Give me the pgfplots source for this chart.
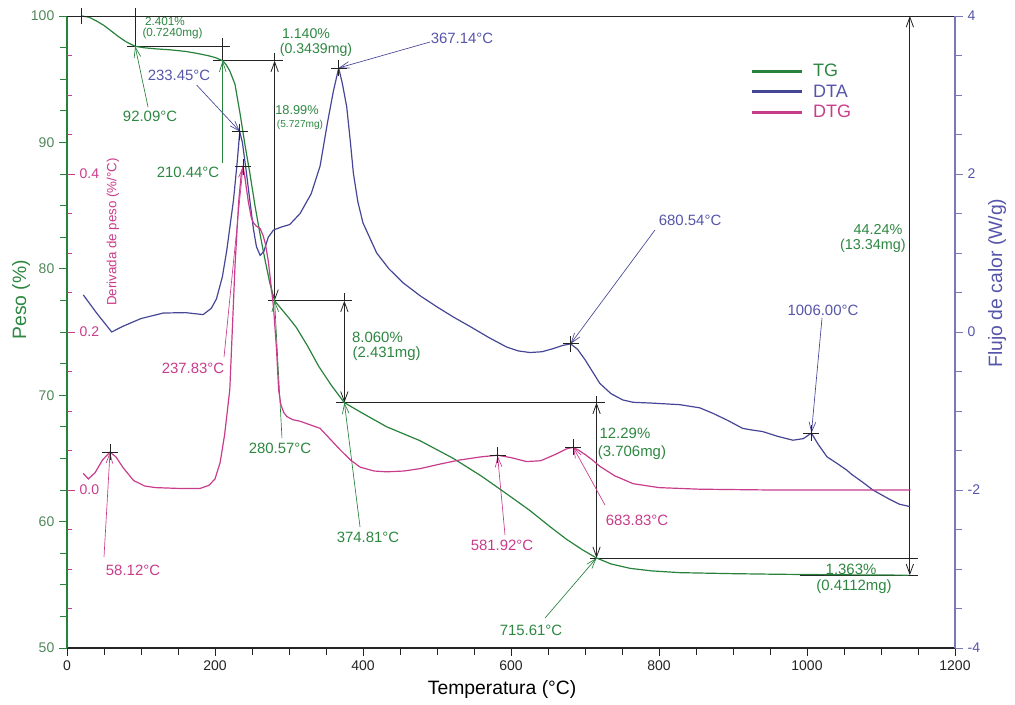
\documentclass[border=0pt]{standalone}
\usepackage{pgfplots}
\pgfplotsset{compat=1.18}
\usepackage{fontspec}
\setmainfont{Liberation Sans}
\usetikzlibrary{arrows.meta}
\definecolor{tg}{RGB}{40,130,60}
\definecolor{tgtext}{RGB}{45,135,65}
\definecolor{tgtick}{RGB}{80,135,90}
\definecolor{dta}{RGB}{70,70,150}
\definecolor{dtatext}{RGB}{85,85,170}
\definecolor{dtg}{RGB}{200,60,140}
\definecolor{ann}{RGB}{35,35,35}
\definecolor{raxis}{RGB}{120,120,185}
\def\ftick{\fontsize{10.5}{12}\selectfont}
\def\fann{\fontsize{11.2}{12.5}\selectfont}
\def\fmid{\fontsize{9.6}{11}\selectfont}
\def\fsmall{\fontsize{8.8}{10}\selectfont}
\def\ftiny{\fontsize{7.6}{8.5}\selectfont}
\def\flab{\fontsize{14.5}{16}\selectfont}
\def\fleg{\fontsize{13.5}{15}\selectfont}
\tikzset{
  dim/.style={ann, line width=0.6pt},
  darr/.style={dim, {Straight Barb[length=7.5pt,width=5.5pt]}-{Straight Barb[length=7.5pt,width=5.5pt]}},
  parr/.style={line width=0.5pt, -{Straight Barb[length=7.5pt,width=5pt]}},
}
\pgfplotsset{base/.style={scale only axis, width=666pt, height=474pt,
  xmin=0, xmax=1200, at={(0,0)}, anchor=south west,
  /pgf/number format/assume math mode=true, /pgf/number format/1000 sep={}}}
\begin{document}
\begin{tikzpicture}
% ---------------- TG axis ----------------
\begin{axis}[base, ymin=50, ymax=100, clip=false,
  axis x line*=bottom, axis y line*=left,
  x axis line style={-, ann, line width=0.8pt},
  y axis line style={-, tg, line width=0.8pt},
  xtick={0,200,...,1200},
  minor xtick={50,100,150,250,300,350,450,500,550,650,700,750,850,900,950,1050,1100,1150},
  ytick={50,60,...,100},
  minor ytick={52.5,55,57.5,62.5,65,67.5,72.5,75,77.5,82.5,85,87.5,92.5,95,97.5},
  tick align=outside, major tick length=6pt, minor tick length=5pt,
  xtick style={ann, line width=0.7pt}, ytick style={tg, line width=0.7pt},
  every minor tick/.append style={line width=0.7pt},
  xticklabel style={font=\ftick, text=ann},
  yticklabel style={font=\ftick, text=tgtick},
  xlabel={Temperatura (°C)}, ylabel={Peso (\%)},
  xlabel style={at={(axis description cs:0.49,-0.0649)}, anchor=center, font=\flab, text=black},
  ylabel style={at={(axis description cs:-0.0518,0.551)}, anchor=center, font=\flab, text=tgtext},
]
% dimension lines
\draw[dim, line width=0.7pt] (axis cs:0,100) -- (axis cs:1200,100);
\draw[dim] (axis cs:92.09,100.65) -- (axis cs:92.09,97.6);
\draw[dim] (axis cs:81,97.6) -- (axis cs:220,97.6);
\draw[dim] (axis cs:210.44,98.26) -- (axis cs:210.44,96.46);
\draw[dim] (axis cs:197,96.46) -- (axis cs:292,96.46);
\draw[dim] (axis cs:280.57,97.1) -- (axis cs:280.57,96.46);
\draw[darr] (axis cs:280.57,96.46) -- (axis cs:280.57,77.47);
\draw[dim] (axis cs:271.6,77.47) -- (axis cs:385,77.47);
\draw[dim] (axis cs:374.81,78.05) -- (axis cs:374.81,77.47);
\draw[darr] (axis cs:374.81,77.47) -- (axis cs:374.81,69.41);
\draw[dim] (axis cs:363.5,69.41) -- (axis cs:727,69.41);
\draw[dim] (axis cs:715.61,69.9) -- (axis cs:715.61,69.41);
\draw[darr] (axis cs:715.61,69.41) -- (axis cs:715.61,57.12);
\draw[dim] (axis cs:707,57.12) -- (axis cs:1150,57.12);
\draw[dim] (axis cs:990,55.76) -- (axis cs:1150,55.76);
\draw[darr] (axis cs:1139,100) -- (axis cs:1139,55.76);
% step labels
\node[text=tgtext, font=\fsmall] at (axis cs:132.4,99.53) {2.401\%};
\node[text=tgtext, font=\fsmall] at (axis cs:142.6,98.58) {(0.7240mg)};
\node[text=tgtext, font=\fontsize{10.6}{12}\selectfont] at (axis cs:323,98.6) {1.140\%};
\node[text=tgtext, font=\fontsize{10.6}{12}\selectfont] at (axis cs:336.5,97.31) {(0.3439mg)};
\node[text=tgtext, font=\fmid] at (axis cs:310.8,92.56) {18.99\%};
\node[text=tgtext, font=\ftiny] at (axis cs:314.9,91.38) {(5.727mg)};
\node[text=tgtext, font=\fann] at (axis cs:419.6,74.6) {8.060\%};
\node[text=tgtext, font=\fann] at (axis cs:432,73.26) {(2.431mg)};
\node[text=tgtext, font=\fann] at (axis cs:754,67.0) {12.29\%};
\node[text=tgtext, font=\fann] at (axis cs:763.5,65.43) {(3.706mg)};
\node[text=tgtext, font=\fontsize{10.8}{12}\selectfont] at (axis cs:1096,83.12) {44.24\%};
\node[text=tgtext, font=\fontsize{10.8}{12}\selectfont] at (axis cs:1089,81.85) {(13.34mg)};
\node[text=tgtext, font=\fann] at (axis cs:1059.5,56.25) {1.363\%};
\node[text=tgtext, font=\fann] at (axis cs:1063.5,54.83) {(0.4112mg)};
% temperature labels
\draw[parr, tg] (axis cs:109.5,92.8) -- (axis cs:92.09,97.6);
\node[text=tgtext, font=\fann] at (axis cs:112.2,92.05) {92.09°C};
\draw[parr, tg] (axis cs:210.44,88.4) -- (axis cs:210.44,96.46);
\node[text=tgtext, font=\fann] at (axis cs:163.5,87.66) {210.44°C};
\draw[parr, dta] (axis cs:175.2,94.54) -- (axis cs:233.8,90.85);
\node[text=dtatext, font=\fann] at (axis cs:151.4,95.33) {233.45°C};
\draw[parr, dta] (axis cs:490.5,97.94) -- (axis cs:367.14,95.89);
\node[text=dtatext, font=\fann] at (axis cs:533.8,98.26) {367.14°C};
\draw[parr, dtg] (axis cs:212.2,73.02) -- (axis cs:237.83,88.08);
\node[text=dtg, font=\fann] at (axis cs:170.3,72.15) {237.83°C};
\draw[parr, tg] (axis cs:290.5,66.61) -- (axis cs:280.57,77.47);
\node[text=tgtext, font=\fann] at (axis cs:287.8,65.82) {280.57°C};
\draw[parr, tg] (axis cs:396,59.57) -- (axis cs:374.81,69.41);
\node[text=tgtext, font=\fann] at (axis cs:406.8,58.78) {374.81°C};
\draw[parr, dtg] (axis cs:591.9,58.94) -- (axis cs:581.92,65.19);
\node[text=dtg, font=\fann] at (axis cs:587.8,58.15) {581.92°C};
\draw[parr, dtg] (axis cs:727,61.31) -- (axis cs:683.83,65.9);
\node[text=dtg, font=\fann] at (axis cs:770.3,60.13) {683.83°C};
\draw[parr, tg] (axis cs:646,52.37) -- (axis cs:715.61,57.12);
\node[text=tgtext, font=\fann] at (axis cs:627,51.42) {715.61°C};
\draw[parr, dta] (axis cs:794.6,83.07) -- (axis cs:680.54,74.06);
\node[text=dtatext, font=\fann] at (axis cs:842,83.86) {680.54°C};
\draw[parr, dta] (axis cs:1020.3,76.11) -- (axis cs:1006,67.01);
\node[text=dtatext, font=\fann] at (axis cs:1021.6,76.74) {1006.00°C};
\draw[parr, dtg] (axis cs:50,57.2) -- (axis cs:58.12,65.48);
\node[text=dtg, font=\fann] at (axis cs:89.2,56.17) {58.12°C};
% TG curve
\addplot[tg, line width=0.9pt] coordinates {
(20,100) (30,99.9) (40,99.6) (50,99.25) (60,98.8) (70,98.35) (80,97.95) (92.09,97.6)
(105,97.48) (120,97.4) (140,97.32) (160,97.2) (175,97.05) (190,96.87) (200,96.72)
(210.44,96.46) (215,96.15) (220,95.65) (227,94.6) (233.8,92.3) (240.5,89.8) (247,87.6)
(254,85.0) (261,82.7) (267.6,80.7) (274,78.9) (280.57,77.47) (290,76.8) (300,76.1)
(310,75.35) (325,73.9) (340,72.3) (357,70.8) (374.81,69.41) (400,68.55) (432,67.5)
(477,66.4) (522,65.0) (560,63.6) (594,62.2) (625,60.9) (652.7,59.6) (675,58.6)
(697,57.75) (715.61,57.12) (735,56.65) (761,56.3) (790,56.1) (828,55.96) (900,55.88)
(963,55.83) (1050,55.79) (1137,55.76)
};
\addplot[only marks, mark=+, mark size=6pt, ann, line width=0.6pt] coordinates {(20,100)};
\end{axis}
% ---------------- DTA axis ----------------
\begin{axis}[base, ymin=-4, ymax=4, clip=false,
  axis y line*=right, axis x line=none,
  y axis line style={-, raxis, line width=0.8pt},
  ytick={-4,-2,...,4},
  minor ytick={-3.5,-3,-2.5,-1.5,-1,-0.5,0.5,1,1.5,2.5,3,3.5},
  tick align=outside, major tick length=6pt, minor tick length=5pt,
  ytick style={raxis, line width=0.7pt}, every minor tick/.append style={line width=0.7pt},
  yticklabel style={font=\ftick, text=dtatext},
  ylabel={Flujo de calor (W/g)},
  ylabel style={at={(axis description cs:1.0473,0.5775)}, anchor=center, font=\flab, text=dtatext},
]
\addplot[dta, line width=0.9pt] coordinates {
(22,0.47) (40,0.24) (60.4,0.0) (75,0.07) (100,0.17) (130,0.24) (160,0.245) (184,0.22)
(195,0.30) (202,0.42) (210,0.70) (216,1.04) (225,1.67) (230,2.15) (233.45,2.535)
(237,2.40) (242,2.05) (247,1.67) (252,1.30) (256,1.08) (261,0.97) (266,1.02) (272,1.20)
(279,1.29) (290,1.33) (301,1.36) (315,1.50) (330,1.75) (342,2.10) (352,2.65) (360,3.05)
(367.14,3.34) (372,3.15) (378,2.85) (383,2.40) (387,2.01) (393,1.65) (400,1.38)
(418.5,1.00) (435,0.80) (454.5,0.62) (477,0.46) (499.6,0.32) (522,0.19) (544.6,0.07)
(570,-0.07) (594,-0.19) (610,-0.24) (625.7,-0.26) (642,-0.25) (657,-0.21) (670,-0.17)
(680.54,-0.15) (690,-0.22) (700,-0.35) (710,-0.50) (720,-0.65) (735,-0.78) (751,-0.86)
(765,-0.89) (790,-0.90) (828,-0.92) (855,-0.96) (873,-1.03) (893,-1.12) (913,-1.22)
(925,-1.24) (940,-1.26) (960,-1.32) (981,-1.37) (995,-1.35) (1006,-1.28) (1015,-1.42)
(1027,-1.58) (1040,-1.66) (1054,-1.75) (1060,-1.80) (1075,-1.90) (1089,-2.00)
(1110,-2.11) (1125,-2.18) (1139,-2.21)
};
\addplot[only marks, mark=+, mark size=6pt, ann, line width=0.6pt] coordinates {
(233.45,2.535) (367.14,3.34) (680.54,-0.15) (1006,-1.28)};
\end{axis}
% ---------------- DTG axis ----------------
\begin{axis}[base, ymin=-0.2, ymax=0.6, clip=false,
  axis y line*=left, axis x line=none,
  y axis line style={draw=none},
  ytick={0,0.2,0.4},
  minor ytick={-0.15,-0.1,-0.05,0.05,0.1,0.15,0.25,0.3,0.35,0.45,0.5,0.55},
  tick align=inside, major tick length=6pt, minor tick length=4pt,
  ytick style={dtg, line width=0.6pt}, every minor tick/.append style={line width=0.6pt},
  yticklabel style={font=\ftick, text=dtg, anchor=west, xshift=6pt,
    /pgf/number format/fixed, /pgf/number format/fixed zerofill,
    /pgf/number format/precision=1},
  legend image code/.code={\draw[#1] (0pt,0pt) -- (37.5pt,0pt);},
  legend style={at={(axis description cs:0.7691,0.9275)}, anchor=north west,
    draw=none, fill=none, inner sep=0pt, font=\fleg, row sep=1.4pt, column sep=7.5pt,
    nodes={inner sep=0pt, text height=11pt, text depth=3pt}},
  legend cell align=left,
]
\node[rotate=90, text=dtg, font=\fontsize{10}{12}\selectfont] at (axis cs:62.2,0.3266) {Derivada de peso (\%/°C)};
\addplot[dtg, line width=0.9pt, forget plot] coordinates {
(22,0.021) (28.8,0.014) (38,0.022) (48,0.038) (58.12,0.048) (66,0.042) (76,0.028)
(90,0.012) (105,0.005) (120,0.003) (150,0.002) (180,0.002) (192,0.006) (200,0.014)
(207,0.035) (213,0.07) (220,0.127) (227,0.283) (232,0.365) (235.5,0.400) (237.83,0.409)
(240.5,0.395) (245,0.365) (249,0.345) (252,0.338) (256,0.334) (261,0.331) (265,0.322)
(268,0.312) (272,0.29) (279,0.232) (283,0.18) (286,0.127) (289,0.108) (293,0.098)
(297,0.093) (305,0.089) (315,0.087) (324,0.084) (333,0.081) (342,0.078) (355,0.065)
(369,0.051) (383,0.038) (396,0.029) (415,0.024) (432,0.023) (455,0.024) (477,0.027)
(505,0.033) (531,0.038) (560,0.042) (581.92,0.044) (600,0.041) (621,0.036) (640,0.037)
(660,0.045) (675,0.052) (683.83,0.054) (692,0.050) (700,0.045) (710,0.038) (720,0.030)
(740,0.018) (765,0.008) (800,0.003) (855,0.001) (950,0.000) (1140,0.000)
};
\addplot[only marks, mark=+, mark size=6pt, ann, line width=0.6pt, forget plot] coordinates {
(58.12,0.048) (237.83,0.409) (581.92,0.044) (683.83,0.054)};
\addlegendimage{tg, line width=2.2pt}
\addlegendentry{\textcolor{tgtext}{TG}}
\addlegendimage{dta, line width=2.2pt}
\addlegendentry{\textcolor{dtatext}{DTA}}
\addlegendimage{dtg, line width=2.2pt}
\addlegendentry{\textcolor{dtg}{DTG}}
\end{axis}
\pgfresetboundingbox
\useasboundingbox (-50.25pt,-42.75pt) rectangle (711pt,486pt);
\end{tikzpicture}
\end{document}
